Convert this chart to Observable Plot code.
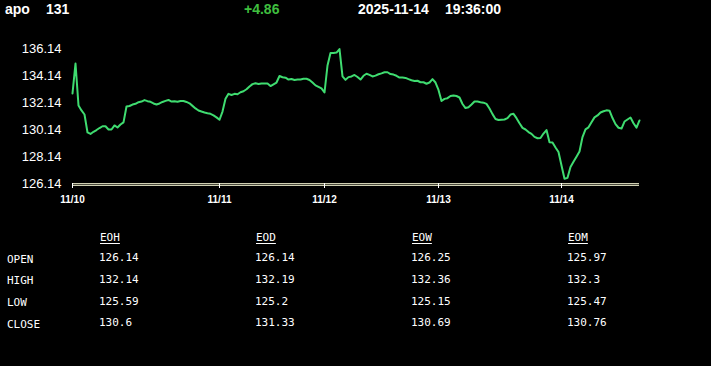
<!DOCTYPE html>
<html>
<head>
<meta charset="utf-8">
<script src="https://cdn.jsdelivr.net/npm/d3@7"></script>
<script src="https://cdn.jsdelivr.net/npm/@observablehq/plot@0.6"></script>
<style>
  html, body { margin: 0; padding: 0; background: #000; width: 711px; height: 366px; overflow: hidden; }
  #wrap { position: relative; width: 711px; height: 366px; background: #000; }
  .hdr { position: absolute; top: 2px; font: bold 14px/14px "Liberation Sans", Arial, sans-serif; color: #fff; white-space: pre; }
  .tbl { position: absolute; font: 11px/11px "DejaVu Sans Mono", "Liberation Mono", monospace; color: #fff; white-space: pre; }
  .th { text-decoration: underline; text-underline-offset: 2px; }
  #chart { position: absolute; left: 0; top: 0; }
</style>
</head>
<body>
<div id="wrap">
  <div id="chart"></div>
</div>
<script>
// ---- header values ----
const symbol = "apo";
const lastPrice = "131";
const change = "+4.86";
const dateStr = "2025-11-14";
const timeStr = "19:36:00";

// ---- price series (one value per sample) ----
const prices = [
  132.81, 135.03, 131.92, 131.55, 131.25, 129.92, 129.81, 129.97, 130.10, 130.25,
  130.38, 130.38, 130.14, 130.14, 130.44, 130.29, 130.51, 130.67, 131.84, 131.88,
  131.99, 132.04, 132.16, 132.21, 132.32, 132.24, 132.19, 132.07, 131.99, 132.07,
  132.18, 132.26, 132.33, 132.21, 132.23, 132.19, 132.25, 132.25, 132.18, 132.08,
  131.89, 131.70, 131.55, 131.47, 131.40, 131.34, 131.30, 131.19, 131.04, 130.86,
  131.47, 132.41, 132.78, 132.70, 132.78, 132.75, 132.90, 132.97, 133.12, 133.33,
  133.50, 133.57, 133.51, 133.55, 133.55, 133.55, 133.36, 133.49, 133.62, 134.10,
  134.01, 133.98, 133.84, 133.88, 133.81, 133.84, 133.84, 133.90, 133.90, 133.81,
  133.62, 133.41, 133.30, 133.19, 132.88, 134.88, 135.81, 135.81, 135.84, 136.10,
  134.07, 133.82, 134.02, 134.07, 134.18, 134.03, 133.84, 134.12, 134.27, 134.19,
  134.07, 134.13, 134.23, 134.30, 134.38, 134.38, 134.25, 134.21, 134.12, 133.99,
  133.99, 133.96, 133.87, 133.79, 133.73, 133.75, 133.64, 133.64, 133.53, 133.62,
  133.87, 133.62, 133.07, 132.25, 132.41, 132.46, 132.62, 132.66, 132.62, 132.51,
  132.03, 131.73, 131.79, 131.99, 132.21, 132.21, 132.16, 132.13, 132.04, 131.70,
  131.28, 130.92, 130.84, 130.86, 130.88, 130.98, 131.25, 131.30, 130.98, 130.60,
  130.26, 130.14, 129.95, 129.82, 129.59, 129.49, 129.51, 129.84, 130.10, 129.20,
  129.18, 128.81, 128.47, 127.47, 126.49, 126.56, 127.36, 127.75, 128.13, 128.51,
  129.58, 130.15, 130.30, 130.68, 131.04, 131.18, 131.40, 131.49, 131.56, 131.53,
  130.99, 130.54, 130.27, 130.21, 130.73, 130.88, 131.03, 130.60, 130.28, 130.81
];

// ---- axis ticks ----
const dayTickIndex = [0, 49, 84, 122, 163];
const dayTickLabels = ["11/10", "11/11", "11/12", "11/13", "11/14"];
const priceTicks = [126.14, 128.14, 130.14, 132.14, 134.14, 136.14];
const basePrice = 126.14;

// ---- summary table ----
const tableCols = ["EOH", "EOD", "EOW", "EOM"];
const tableRows = ["OPEN", "HIGH", "LOW", "CLOSE"];
const openVals  = ["126.14", "126.14", "126.25", "125.97"];
const highVals  = ["132.14", "132.19", "132.36", "132.3"];
const lowVals   = ["125.59", "125.2", "125.15", "125.47"];
const closeVals = ["130.6", "131.33", "130.69", "130.76"];

const data = prices.map((p, i) => ({ i, p }));

const chart = Plot.plot({
  width: 711,
  height: 210,
  marginLeft: 72,
  marginRight: 72,
  marginTop: 48,
  marginBottom: 27,
  style: { background: "#000", color: "#fff", fontFamily: "'Liberation Sans', Arial, sans-serif" },
  x: { domain: [0, prices.length - 1] },
  y: { domain: [126.14, 136.14] },
  marks: [
    Plot.ruleY([basePrice], { stroke: "#cfcfb2", strokeWidth: 3, dy: 1 }),
    Plot.ruleY([basePrice], { stroke: "#4a4a3c", strokeWidth: 1, dy: 1 }),
    Plot.line(data, { x: "i", y: "p", stroke: "#3fdc70", strokeWidth: 2 }),
    Plot.axisY({ ticks: priceTicks, tickFormat: d => d.toFixed(2), tickSize: 0, tickPadding: 11, fontSize: 13, fill: "#fff", label: null }),
    Plot.axisX({ ticks: dayTickIndex, tickFormat: d => dayTickLabels[dayTickIndex.indexOf(d)], tickSize: 5, tickPadding: 7, fontSize: 10, fontWeight: "bold", stroke: "#fff", fill: "#fff", label: null })
  ]
});
document.getElementById("chart").appendChild(chart);

const wrap = document.getElementById("wrap");
function addDiv(cls, text, left, top, color) {
  const d = document.createElement("div");
  d.className = cls;
  d.textContent = text;
  d.style.left = left + "px";
  d.style.top = top + "px";
  if (color) d.style.color = color;
  wrap.appendChild(d);
  return d;
}
// header
addDiv("hdr", symbol, 5, 2);
addDiv("hdr", lastPrice, 46, 2);
addDiv("hdr", change, 244, 2, "#3fbf3f");
addDiv("hdr", dateStr, 358, 2);
addDiv("hdr", timeStr, 445, 2);

// table
const colX = [99, 255, 411, 567];
const rowVals = [openVals, highVals, lowVals, closeVals];
const labelTops = [254, 275, 297, 319];
const valTops = [252, 273.5, 295.5, 317];
tableCols.forEach((c, k) => {
  addDiv("tbl th", c, colX[k] + 1, 231.5);
});
tableRows.forEach((r, j) => {
  addDiv("tbl", r, 7, labelTops[j]);
  rowVals[j].forEach((v, k) => addDiv("tbl", v, colX[k], valTops[j]));
});
</script>
</body>
</html>
